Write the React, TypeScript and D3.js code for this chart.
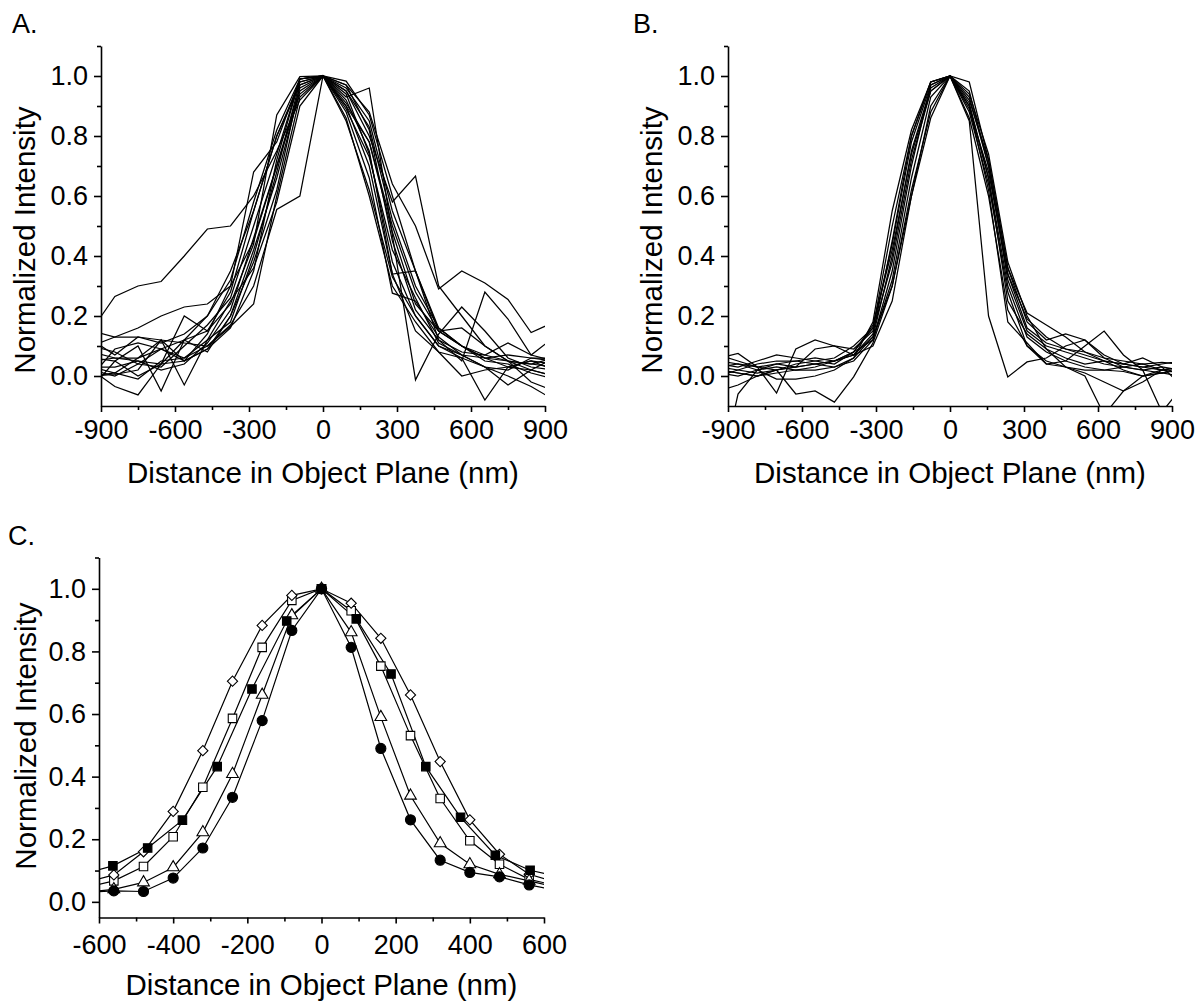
import React, { useEffect, useRef } from "react";
import * as d3 from "d3";

const FONT = "'Liberation Sans', Arial, Helvetica, sans-serif";

// ---- panel A: line profiles, 93.75 nm sampling ----
const xA = [-937.5, -843.75, -750, -656.25, -562.5, -468.75, -375, -281.25, -187.5, -93.75, 0,
  93.75, 187.5, 281.25, 375, 468.75, 562.5, 656.25, 750, 843.75, 937.5];
const profilesA = [
  [0.154, 0.265, 0.30, 0.315, 0.40, 0.49, 0.50, 0.60, 0.75, 0.92, 1.0, 0.97, 0.88, 0.64, 0.50, 0.29, 0.35, 0.31, 0.255, 0.145, 0.18],
  [0.02, 0.0, 0.04, 0.09, 0.12, 0.15, 0.28, 0.55, 0.80, 0.97, 1.0, 0.93, 0.96, 0.47, -0.013, 0.14, 0.23, 0.15, 0.06, 0.03, 0.02],
  [0.0, 0.01, -0.01, 0.05, 0.06, 0.10, 0.17, 0.30, 0.555, 0.60, 1.0, 0.90, 0.78, 0.50, 0.28, 0.15, 0.10, 0.07, 0.05, 0.04, 0.03],
  [0.08, 0.06, 0.05, 0.04, 0.12, 0.20, 0.35, 0.55, 0.80, 0.98, 1.0, 0.95, 0.80, 0.58, 0.666, 0.30, 0.20, 0.10, 0.05, 0.02, 0.0],
  [0.10, 0.13, 0.16, 0.20, 0.23, 0.24, 0.30, 0.45, 0.70, 0.96, 1.0, 0.96, 0.85, 0.55, 0.35, 0.16, 0.10, 0.06, 0.05, 0.04, 0.06],
  [0.02, -0.035, -0.063, 0.04, 0.05, 0.09, 0.16, 0.35, 0.72, 0.99, 1.0, 0.94, 0.74, 0.38, 0.20, 0.10, 0.07, 0.03, 0.0, -0.035, -0.08],
  [0.06, 0.05, 0.10, -0.05, 0.12, 0.08, 0.20, 0.42, 0.66, 0.95, 1.0, 0.90, 0.70, 0.34, 0.15, 0.08, 0.06, -0.08, 0.03, 0.05, 0.02],
  [0.0, 0.005, 0.02, 0.12, -0.03, 0.12, 0.18, 0.40, 0.68, 0.98, 1.0, 0.97, 0.82, 0.45, 0.22, 0.12, 0.08, 0.07, 0.11, 0.07, 0.05],
  [0.15, 0.13, 0.13, 0.12, 0.11, 0.10, 0.165, 0.24, 0.60, 0.93, 1.0, 0.88, 0.66, 0.276, 0.25, 0.13, 0.07, 0.06, 0.03, 0.02, 0.0],
  [0.05, 0.06, 0.06, 0.09, 0.05, 0.14, 0.30, 0.68, 0.78, 0.99, 1.0, 0.92, 0.75, 0.34, 0.35, 0.15, 0.10, 0.06, 0.07, 0.06, 0.05],
  [-0.04, 0.05, 0.0, 0.04, 0.20, 0.15, 0.24, 0.44, 0.87, 0.998, 1.0, 0.983, 0.87, 0.60, 0.35, 0.12, 0.05, 0.28, 0.19, 0.07, 0.13],
  [0.03, 0.01, 0.06, 0.12, 0.05, 0.09, 0.20, 0.38, 0.62, 0.97, 1.0, 0.85, 0.62, 0.33, 0.20, 0.10, 0.06, 0.03, 0.02, 0.06, 0.06],
  [0.10, 0.08, 0.04, 0.03, 0.10, 0.17, 0.26, 0.50, 0.74, 0.99, 1.0, 0.91, 0.78, 0.48, 0.24, 0.15, 0.16, 0.10, 0.05, -0.02, -0.05],
  [0.0, 0.09, 0.11, 0.09, 0.06, 0.12, 0.25, 0.36, 0.58, 0.90, 1.0, 0.86, 0.60, 0.30, 0.18, 0.08, 0.0, 0.02, 0.03, 0.05, 0.04],
  [0.12, 0.07, 0.13, 0.11, 0.14, 0.20, 0.32, 0.58, 0.82, 0.99, 1.0, 0.95, 0.83, 0.52, 0.30, 0.16, 0.10, 0.05, 0.04, 0.01, -0.01],
  [0.03, 0.03, 0.05, 0.02, 0.04, 0.11, 0.22, 0.46, 0.70, 0.94, 1.0, 0.89, 0.73, 0.42, 0.26, 0.11, 0.07, 0.03, -0.03, 0.02, 0.06],
];

// ---- panel B: line profiles, 78.125 nm sampling ----
const xB = [-937.5, -859.375, -781.25, -703.125, -625, -546.875, -468.75, -390.625, -312.5, -234.375, -156.25, -78.125, 0,
  78.125, 156.25, 234.375, 312.5, 390.625, 468.75, 546.875, 625, 703.125, 781.25, 859.375, 937.5];
const profilesB = [
  [0.03, 0.02, 0.01, 0.02, 0.03, 0.04, 0.05, 0.07, 0.14, 0.45, 0.80, 0.98, 1.0, 0.98, 0.72, 0.36, 0.21, 0.17, 0.13, 0.08, 0.06, 0.05, 0.04, 0.045, 0.04],
  [-0.35, -0.06, 0.02, 0.03, 0.02, 0.03, 0.05, 0.08, 0.12, 0.35, 0.70, 0.97, 1.0, 0.85, 0.20, -0.003, 0.047, 0.06, 0.10, 0.12, 0.06, 0.03, 0.02, 0.01, 0.03],
  [0.06, 0.075, 0.03, -0.057, 0.09, 0.12, 0.10, 0.07, 0.10, 0.25, 0.60, 0.90, 1.0, 0.95, 0.70, 0.32, 0.15, 0.10, 0.08, 0.06, 0.04, 0.03, 0.02, 0.03, 0.02],
  [0.02, 0.01, 0.0, 0.02, -0.06, -0.05, -0.087, -0.003, 0.11, 0.30, 0.62, 0.88, 1.0, 0.90, 0.66, 0.30, 0.13, 0.08, 0.05, 0.03, 0.02, 0.015, 0.0, 0.01, 0.02],
  [0.07, 0.05, 0.03, 0.04, 0.03, 0.04, 0.05, 0.08, 0.16, 0.50, 0.80, 0.98, 1.0, 0.86, 0.60, 0.22, 0.10, 0.05, 0.03, 0.0, -0.13, -0.05, -0.02, 0.02, 0.03],
  [0.01, 0.0, 0.02, 0.04, 0.05, 0.06, 0.05, 0.07, 0.13, 0.40, 0.75, 0.96, 1.0, 0.88, 0.64, 0.28, 0.10, 0.04, 0.05, 0.10, 0.15, 0.07, 0.02, -0.12, -0.04],
  [0.0, 0.02, 0.04, 0.05, 0.05, 0.04, 0.03, 0.06, 0.18, 0.55, 0.82, 0.98, 1.0, 0.92, 0.72, 0.36, 0.18, 0.12, 0.14, 0.12, 0.07, 0.04, 0.03, 0.02, 0.03],
  [-0.05, -0.03, 0.0, 0.01, 0.02, 0.02, 0.03, 0.05, 0.12, 0.32, 0.66, 0.93, 1.0, 0.90, 0.62, 0.18, 0.11, 0.04, 0.03, 0.01, -0.02, -0.05, 0.0, 0.02, 0.01],
  [0.04, 0.03, 0.05, 0.07, 0.06, 0.05, 0.04, 0.08, 0.17, 0.42, 0.74, 0.95, 1.0, 0.93, 0.70, 0.34, 0.16, 0.11, 0.09, 0.07, 0.05, 0.04, 0.03, 0.04, 0.05],
  [0.02, 0.01, 0.0, 0.02, 0.03, 0.09, 0.10, 0.09, 0.15, 0.38, 0.72, 0.95, 1.0, 0.89, 0.68, 0.34, 0.19, 0.13, 0.09, 0.08, 0.05, 0.04, 0.06, 0.03, -0.03],
  [0.03, 0.04, 0.03, 0.02, 0.04, 0.05, 0.06, 0.10, 0.16, 0.44, 0.78, 0.97, 1.0, 0.91, 0.66, 0.25, 0.14, 0.09, 0.06, 0.04, 0.05, 0.02, 0.0, 0.01, 0.0],
  [0.05, 0.04, 0.02, -0.01, -0.01, 0.0, 0.02, 0.06, 0.13, 0.30, 0.60, 0.86, 1.0, 0.94, 0.74, 0.38, 0.20, 0.09, 0.03, 0.02, 0.02, 0.03, 0.04, 0.02, 0.03],
];

// ---- panel C: averaged profiles with symbols ----
const xC = [-640, -560, -480, -400, -320, -240, -160, -80, 0, 80, 160, 240, 320, 400, 480, 560, 640];
const xCFilled = [-656.25, -562.5, -468.75, -375, -281.25, -187.5, -93.75, 0, 93.75, 187.5, 281.25, 375, 468.75, 562.5, 656.25];
const openDiamond = [0.06, 0.086, 0.16, 0.289, 0.483, 0.705, 0.883, 0.979, 1.0, 0.954, 0.842, 0.661, 0.448, 0.262, 0.152, 0.088, 0.06];
const openSquare = [0.045, 0.067, 0.113, 0.208, 0.366, 0.586, 0.813, 0.963, 1.0, 0.93, 0.753, 0.531, 0.33, 0.195, 0.12, 0.072, 0.05];
const openTriangle = [0.03, 0.04, 0.062, 0.11, 0.222, 0.408, 0.661, 0.915, 1.0, 0.861, 0.59, 0.339, 0.187, 0.12, 0.088, 0.067, 0.045];
const filledCircle = [0.03, 0.035, 0.033, 0.076, 0.172, 0.334, 0.579, 0.867, 1.0, 0.813, 0.49, 0.262, 0.133, 0.094, 0.08, 0.054, 0.035];
const filledSquare = [0.085, 0.115, 0.172, 0.261, 0.432, 0.68, 0.897, 1.0, 0.904, 0.728, 0.432, 0.27, 0.149, 0.101, 0.075];

// ---- ticks / labels ----
const xTicksAB = [-900, -600, -300, 0, 300, 600, 900];
const xMinorAB = [-750, -450, -150, 150, 450, 750];
const xTicksC = [-600, -400, -200, 0, 200, 400, 600];
const xMinorC = [-500, -300, -100, 100, 300, 500];
const yTicks = [0, 0.2, 0.4, 0.6, 0.8, 1.0];
const yMinor = [0.1, 0.3, 0.5, 0.7, 0.9, 1.1];
const X_TITLE = "Distance in Object Plane (nm)";
const Y_TITLE = "Normalized Intensity";

const W = 1198, H = 1003;

type Box = { left: number; right: number; top: number; bottom: number };

const Panel = ({ id, letter, letterX, letterY, box, xDomain, yDomain, xTicks, xMinor, xPad, xTitleY, yTitleX, yTitleY, children }) => {
  const gxRef = useRef(null);
  const gyRef = useRef(null);

  const x = d3.scaleLinear().domain(xDomain).range([box.left, box.right]);
  const y = d3.scaleLinear().domain(yDomain).range([box.bottom, box.top]);

  useEffect(() => {
    const gx = d3.select(gxRef.current);
    gx.selectAll("*").remove();
    gx.append("g")
      .call(d3.axisBottom(x).tickValues(xMinor).tickSize(4).tickSizeOuter(0).tickFormat(() => ""))
      .call(g => g.select(".domain").remove());
    gx.append("g")
      .call(d3.axisBottom(x).tickValues(xTicks).tickSize(6).tickSizeOuter(0).tickPadding(xPad).tickFormat(d => String(d)));
    gx.selectAll("line, path").attr("stroke", "#000").attr("stroke-width", 1.6);
    gx.selectAll("g").attr("font-size", 27).attr("font-family", FONT);
    gx.selectAll("text").attr("fill", "#000");

    const gy = d3.select(gyRef.current);
    gy.selectAll("*").remove();
    gy.append("g")
      .call(d3.axisLeft(y).tickValues(yMinor).tickSize(4).tickSizeOuter(0).tickFormat(() => ""))
      .call(g => g.select(".domain").remove());
    gy.append("g")
      .call(d3.axisLeft(y).tickValues(yTicks).tickSize(7).tickSizeOuter(0).tickPadding(6).tickFormat(d3.format(".1f")));
    gy.selectAll("line, path").attr("stroke", "#000").attr("stroke-width", 1.6);
    gy.selectAll("g").attr("font-size", 27).attr("font-family", FONT);
    gy.selectAll("text").attr("fill", "#000");
  }, []);

  return (
    <g>
      <defs>
        <clipPath id={id}>
          <rect x={box.left} y={box.top} width={box.right - box.left} height={box.bottom - box.top} />
        </clipPath>
      </defs>
      <text x={letterX} y={letterY} fontSize={27} fontFamily={FONT}>{letter}</text>
      <g clipPath={`url(#${id})`}>{children(x, y)}</g>
      <g ref={gxRef} transform={`translate(0,${box.bottom})`} />
      <g ref={gyRef} transform={`translate(${box.left},0)`} />
      <text x={(box.left + box.right) / 2} y={xTitleY} textAnchor="middle" fontSize={29.5} fontFamily={FONT}>{X_TITLE}</text>
      <text transform={`translate(${yTitleX},${yTitleY}) rotate(-90)`} textAnchor="middle" fontSize={29.5} fontFamily={FONT}>{Y_TITLE}</text>
    </g>
  );
};

const profileLines = (xs, profiles) => (x, y) => {
  const line = d3.line().x(d => x(d[0])).y(d => y(d[1]));
  return profiles.map((p, i) => (
    <path key={i} d={line(p.map((v, j) => [xs[j], v]))} fill="none" stroke="#000" strokeWidth={1.25} />
  ));
};

const seriesC = [
  { name: "openSquare", xs: xC, ys: openSquare, type: d3.symbolSquare, size: 72, rot: 0, fill: "#fff" },
  { name: "openDiamond", xs: xC, ys: openDiamond, type: d3.symbolSquare, size: 52, rot: 45, fill: "#fff" },
  { name: "openTriangle", xs: xC, ys: openTriangle, type: d3.symbolTriangle, size: 60, rot: 0, fill: "#fff" },
  { name: "filledSquare", xs: xCFilled, ys: filledSquare, type: d3.symbolSquare, size: 72, rot: 0, fill: "#000" },
  { name: "filledCircle", xs: xC, ys: filledCircle, type: d3.symbolCircle, size: 80, rot: 0, fill: "#000" },
];

const panelC = (x, y) => {
  const line = d3.line().x(d => x(d[0])).y(d => y(d[1]));
  return (
    <g>
      {seriesC.map(s => (
        <path key={s.name + "-l"} d={line(s.ys.map((v, j) => [s.xs[j], v]))} fill="none" stroke="#000" strokeWidth={1.2} />
      ))}
      {seriesC.map(s => {
        const sym = d3.symbol().type(s.type).size(s.size)();
        return (
          <g key={s.name}>
            {s.ys.map((v, j) => (
              <path key={j} d={sym}
                transform={`translate(${x(s.xs[j])},${y(v)}) rotate(${s.rot})`}
                fill={s.fill} stroke="#000" strokeWidth={1.1} />
            ))}
          </g>
        );
      })}
    </g>
  );
};

export default function App() {
  const boxA: Box = { left: 101, right: 545, top: 46, bottom: 406 };
  const boxB: Box = { left: 728, right: 1172, top: 46, bottom: 406 };
  const boxC: Box = { left: 99, right: 544, top: 557.5, bottom: 917.5 };
  return (
    <svg width={W} height={H} viewBox={`0 0 ${W} ${H}`}
      style={{ position: "absolute", left: 0, top: 0, display: "block", background: "#fff" }}>
      <rect width={W} height={H} fill="#fff" />
      <Panel id="clipA" letter="A." letterX={12} letterY={33} box={boxA}
        xDomain={[-900, 900]} yDomain={[-0.1, 1.1]} xTicks={xTicksAB} xMinor={xMinorAB} xPad={8}
        xTitleY={483} yTitleX={35} yTitleY={240}>
        {profileLines(xA, profilesA)}
      </Panel>
      <Panel id="clipB" letter="B." letterX={633} letterY={33} box={boxB}
        xDomain={[-900, 900]} yDomain={[-0.1, 1.1]} xTicks={xTicksAB} xMinor={xMinorAB} xPad={8}
        xTitleY={483} yTitleX={662} yTitleY={240}>
        {profileLines(xB, profilesB)}
      </Panel>
      <Panel id="clipC" letter="C." letterX={8} letterY={545} box={boxC}
        xDomain={[-600, 600]} yDomain={[-0.05, 1.1]} xTicks={xTicksC} xMinor={xMinorC} xPad={11}
        xTitleY={995} yTitleX={36} yTitleY={736}>
        {panelC}
      </Panel>
    </svg>
  );
}
